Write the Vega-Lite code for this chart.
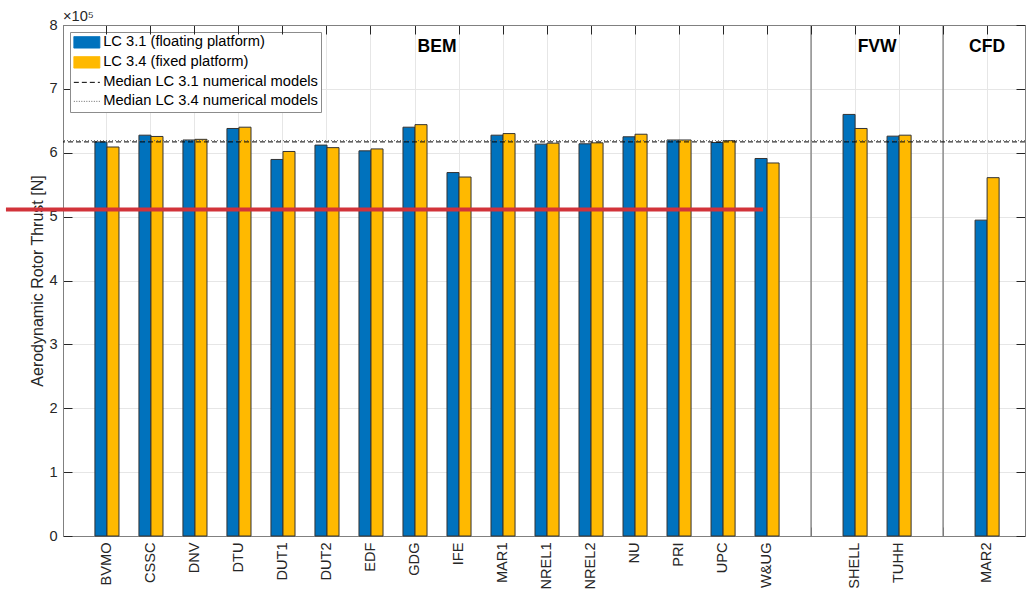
{
  "$schema": "https://vega.github.io/schema/vega-lite/v6.json",
  "width": 962,
  "height": 511,
  "autosize": {"type": "none"},
  "padding": {"left": 63, "top": 25, "right": 2, "bottom": 59},
  "background": "white",
  "config": {
    "font": "Liberation Sans",
    "view": {"stroke": null},
    "axis": {
      "labelFont": "Liberation Sans",
      "titleFont": "Liberation Sans",
      "labelFontSize": 14.6,
      "labelColor": "#262626",
      "titleColor": "#262626",
      "domainColor": "#808080",
      "domainWidth": 1,
      "tickColor": "#262626",
      "gridColor": "#e6e6e6",
      "gridWidth": 1
    }
  },
  "title": {
    "text": "×10⁵",
    "anchor": "start",
    "frame": "group",
    "offset": 3,
    "dy": 10,
    "fontSize": 14.6,
    "fontWeight": "normal",
    "font": "Liberation Sans",
    "color": "#262626"
  },
  "datasets": {
    "thrust": [
      {"model": "BVMO", "series": "LC 3.1 (floating platform)", "value": 617000},
      {"model": "BVMO", "series": "LC 3.4 (fixed platform)", "value": 609000},
      {"model": "CSSC", "series": "LC 3.1 (floating platform)", "value": 627500},
      {"model": "CSSC", "series": "LC 3.4 (fixed platform)", "value": 625500},
      {"model": "DNV", "series": "LC 3.1 (floating platform)", "value": 620000},
      {"model": "DNV", "series": "LC 3.4 (fixed platform)", "value": 621000},
      {"model": "DTU", "series": "LC 3.1 (floating platform)", "value": 638000},
      {"model": "DTU", "series": "LC 3.4 (fixed platform)", "value": 640000},
      {"model": "DUT1", "series": "LC 3.1 (floating platform)", "value": 589500},
      {"model": "DUT1", "series": "LC 3.4 (fixed platform)", "value": 602000},
      {"model": "DUT2", "series": "LC 3.1 (floating platform)", "value": 612000},
      {"model": "DUT2", "series": "LC 3.4 (fixed platform)", "value": 608000},
      {"model": "EDF", "series": "LC 3.1 (floating platform)", "value": 603000},
      {"model": "EDF", "series": "LC 3.4 (fixed platform)", "value": 606000},
      {"model": "GDG", "series": "LC 3.1 (floating platform)", "value": 640000},
      {"model": "GDG", "series": "LC 3.4 (fixed platform)", "value": 644000},
      {"model": "IFE", "series": "LC 3.1 (floating platform)", "value": 569000},
      {"model": "IFE", "series": "LC 3.4 (fixed platform)", "value": 562000},
      {"model": "MAR1", "series": "LC 3.1 (floating platform)", "value": 627500},
      {"model": "MAR1", "series": "LC 3.4 (fixed platform)", "value": 630000},
      {"model": "NREL1", "series": "LC 3.1 (floating platform)", "value": 613500},
      {"model": "NREL1", "series": "LC 3.4 (fixed platform)", "value": 615000},
      {"model": "NREL2", "series": "LC 3.1 (floating platform)", "value": 614000},
      {"model": "NREL2", "series": "LC 3.4 (fixed platform)", "value": 615500},
      {"model": "NU", "series": "LC 3.1 (floating platform)", "value": 625000},
      {"model": "NU", "series": "LC 3.4 (fixed platform)", "value": 629000},
      {"model": "PRI", "series": "LC 3.1 (floating platform)", "value": 620000},
      {"model": "PRI", "series": "LC 3.4 (fixed platform)", "value": 620000},
      {"model": "UPC", "series": "LC 3.1 (floating platform)", "value": 616000},
      {"model": "UPC", "series": "LC 3.4 (fixed platform)", "value": 619000},
      {"model": "W&UG", "series": "LC 3.1 (floating platform)", "value": 591000},
      {"model": "W&UG", "series": "LC 3.4 (fixed platform)", "value": 584000},
      {"model": "SHELL", "series": "LC 3.1 (floating platform)", "value": 660000},
      {"model": "SHELL", "series": "LC 3.4 (fixed platform)", "value": 638000},
      {"model": "TUHH", "series": "LC 3.1 (floating platform)", "value": 626000},
      {"model": "TUHH", "series": "LC 3.4 (fixed platform)", "value": 627500},
      {"model": "MAR2", "series": "LC 3.1 (floating platform)", "value": 494500},
      {"model": "MAR2", "series": "LC 3.4 (fixed platform)", "value": 561000}
    ],
    "medians": [
      {"series": "Median LC 3.1 numerical models", "value": 617000},
      {"series": "Median LC 3.4 numerical models", "value": 619000}
    ]
  },
  "layer": [
    {
      "data": {"name": "thrust"},
      "mark": {"type": "bar", "stroke": "#333333", "strokeWidth": 1},
      "encoding": {
        "x": {
          "field": "model",
          "type": "nominal",
          "sort": null,
          "scale": {
            "domain": ["BVMO", "CSSC", "DNV", "DTU", "DUT1", "DUT2", "EDF", "GDG", "IFE", "MAR1", "NREL1", "NREL2", "NU", "PRI", "UPC", "W&UG", " ", "SHELL", "TUHH", "  ", "MAR2"],
            "paddingInner": 0,
            "paddingOuter": 0.43,
            "align": 0.58
          },
          "axis": {
            "orient": "bottom",
            "title": null,
            "labelAngle": -90,
            "labelPadding": 15,
            "tickSize": -9,
            "grid": true,
            "domain": true,
            "zindex": 0
          }
        },
        "xOffset": {
          "field": "series",
          "type": "nominal",
          "scale": {"domain": ["LC 3.1 (floating platform)", "LC 3.4 (fixed platform)"], "paddingInner": 0, "paddingOuter": 0.83}
        },
        "y": {
          "field": "value",
          "type": "quantitative",
          "scale": {"domain": [0, 800000], "nice": false},
          "axis": {
            "orient": "left",
            "title": "Aerodynamic Rotor Thrust [N]",
            "titleFontSize": 16,
            "titleFontWeight": "normal",
            "titlePadding": 3,
            "values": [0, 100000, 200000, 300000, 400000, 500000, 600000, 700000, 800000],
            "labelExpr": "format(datum.value / 100000, 'd')",
            "tickSize": -9,
            "labelPadding": 15,
            "grid": true,
            "zindex": 0
          }
        },
        "color": {
          "field": "series",
          "type": "nominal",
          "scale": {
            "domain": ["LC 3.1 (floating platform)", "LC 3.4 (fixed platform)", "Median LC 3.1 numerical models", "Median LC 3.4 numerical models"],
            "range": ["#0072BD", "#FFB900", "#000000", "#666666"]
          },
          "legend": {
            "orient": "top-left",
            "offset": 7,
            "title": null,
            "labelFont": "Liberation Sans",
            "labelFontSize": 14.7,
            "labelColor": "#000000",
            "labelLimit": 400,
            "labelOffset": 9,
            "strokeColor": "#8c8c8c",
            "fillColor": "white",
            "padding": 3,
            "rowPadding": 3,
            "symbolType": "M-2.17,-0.95H2.17V0.95H-2.17Z",
            "symbolSize": 144,
            "symbolOffset": 6.5,
            "symbolStrokeWidth": 1,
            "symbolOpacity": 1,
            "encoding": {
              "symbols": {
                "shape": {"value": {"expr": "indexof(datum.value, 'Median') == 0 ? 'M-2.17,0H2.17' : 'M-2.17,-0.95H2.17V0.95H-2.17Z'"}},
                "fill": {"value": {"expr": "datum.value == 'LC 3.1 (floating platform)' ? '#0072BD' : datum.value == 'LC 3.4 (fixed platform)' ? '#FFB900' : 'transparent'"}},
                "stroke": {"value": {"expr": "datum.value == 'Median LC 3.1 numerical models' ? '#000000' : datum.value == 'Median LC 3.4 numerical models' ? '#777777' : '#333333'"}},
                "strokeDash": {"value": {"expr": "datum.value == 'Median LC 3.1 numerical models' ? [5, 3] : datum.value == 'Median LC 3.4 numerical models' ? [1, 1.5] : [1, 0]"}},
                "strokeWidth": {"value": 1},
                "opacity": {"value": 1}
              }
            }
          }
        }
      }
    },
    {
      "data": {"values": [{"model": " "}, {"model": "  "}]},
      "mark": {"type": "rule", "color": "#8c8c8c", "strokeWidth": 1.5},
      "encoding": {
        "x": {
          "field": "model",
          "type": "nominal",
          "axis": {
            "orient": "top",
            "title": null,
            "labels": false,
            "grid": false,
            "tickSize": -9,
            "domain": true,
            "zindex": 1
          }
        }
      }
    },
    {
      "data": {"name": "medians"},
      "mark": {"type": "rule", "strokeWidth": 1},
      "encoding": {
        "y": {
          "field": "value",
          "type": "quantitative",
          "axis": {
            "orient": "right",
            "title": null,
            "labels": false,
            "grid": false,
            "values": [0, 100000, 200000, 300000, 400000, 500000, 600000, 700000, 800000],
            "tickSize": -9,
            "domain": true,
            "zindex": 1
          }
        },
        "color": {"field": "series", "type": "nominal"},
        "strokeDash": {
          "field": "series",
          "type": "nominal",
          "scale": {"domain": ["Median LC 3.1 numerical models", "Median LC 3.4 numerical models"], "range": [[5, 3], [1, 2]]},
          "legend": null
        }
      }
    },
    {
      "data": {"values": [{"label": "BEM", "model": "IFE", "value": 765000}, {"label": "FVW", "model": "TUHH", "value": 765000}]},
      "mark": {"type": "text", "fontSize": 17.5, "fontWeight": "bold", "font": "Liberation Sans", "color": "#000000", "baseline": "middle", "xOffset": -22},
      "encoding": {
        "x": {"field": "model", "type": "nominal", "axis": null},
        "y": {"field": "value", "type": "quantitative", "axis": null},
        "text": {"field": "label"}
      }
    },
    {
      "data": {"values": [{"label": "CFD", "model": "MAR2", "value": 765000}]},
      "mark": {"type": "text", "fontSize": 17.5, "fontWeight": "bold", "font": "Liberation Sans", "color": "#000000", "baseline": "middle"},
      "encoding": {
        "x": {"field": "model", "type": "nominal", "axis": null},
        "y": {"field": "value", "type": "quantitative", "axis": null},
        "text": {"field": "label"}
      }
    },
    {
      "data": {"values": [{"from": "BVMO", "to": "W&UG", "value": 511000}]},
      "mark": {"type": "rule", "color": "#d2333a", "strokeWidth": 4, "clip": false, "xOffset": -101, "x2Offset": -4},
      "encoding": {
        "x": {"field": "from", "type": "nominal", "axis": null},
        "x2": {"field": "to"},
        "y": {"field": "value", "type": "quantitative", "axis": null}
      }
    }
  ],
  "resolve": {"axis": {"x": "independent", "y": "independent"}}
}
